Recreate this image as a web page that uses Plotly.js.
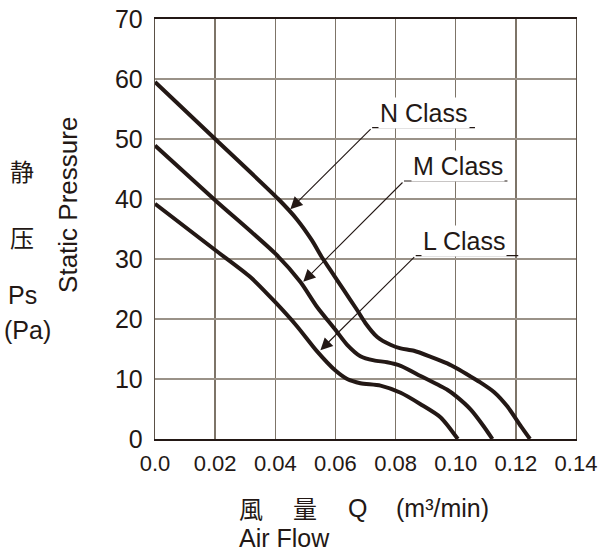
<!DOCTYPE html>
<html>
<head>
<meta charset="utf-8">
<script src="https://cdn.plot.ly/plotly-3.0.1.min.js"></script>
<style>
  html, body { margin: 0; padding: 0; background: #fff; }
  #chart { width: 600px; height: 558px; }
</style>
</head>
<body>
<div id="chart"></div>
<script>
// air flow (m3/min) vs static pressure (Pa)
var flowN = [0, 0.02, 0.041, 0.0472, 0.0522, 0.0556, 0.0583, 0.0628, 0.0672, 0.07, 0.0739, 0.0783, 0.0817, 0.0861, 0.0917, 0.0972, 0.1006, 0.105, 0.1083, 0.1128, 0.1172, 0.1217, 0.1247];
var pressN = [59.5, 50, 40, 36.6, 33.1, 30.2, 28.2, 24.8, 21.5, 19.3, 17, 15.7, 15.1, 14.7, 13.7, 12.6, 11.7, 10.4, 9.4, 7.8, 5.4, 2.1, 0];

var flowM = [0, 0.02, 0.0402, 0.0483, 0.0539, 0.06, 0.0639, 0.0683, 0.0728, 0.0772, 0.0817, 0.0883, 0.0972, 0.1002, 0.105, 0.1094, 0.1122];
var pressM = [48.9, 39.8, 30.8, 26.2, 22, 18.2, 15.7, 13.8, 13.1, 12.8, 12.2, 10.5, 8.2, 7.1, 4.9, 2.05, 0];

var flowL = [0, 0.02, 0.0317, 0.04, 0.0472, 0.0539, 0.06, 0.0639, 0.0683, 0.075, 0.0817, 0.0883, 0.095, 0.1007];
var pressL = [39.2, 31.5, 27, 22.8, 18.8, 14.6, 11.4, 10.0, 9.3, 8.9, 7.7, 5.8, 3.6, 0];

var xTickVals = [0, 0.02, 0.04, 0.06, 0.08, 0.10, 0.12, 0.14];
var xTickText = ['0.0', '0.02', '0.04', '0.06', '0.08', '0.10', '0.12', '0.14'];
var yTickVals = [0, 10, 20, 30, 40, 50, 60, 70];

var classNames = ['N Class', 'M Class', 'L Class'];

var ink = '#231815';
var font = 'Liberation Sans, Arial, sans-serif';

function curve(x, y, name) {
  return {
    type: 'scatter',
    x: x,
    y: y,
    mode: 'lines',
    name: name,
    line: {
      color: ink,
      width: 4,
      shape: 'spline',
      smoothing: 0.7
    },
    hoverinfo: 'x+y'
  };
}

var data = [
  curve(flowN, pressN, classNames[0]),
  curve(flowM, pressM, classNames[1]),
  curve(flowL, pressL, classNames[2])
];

// label callouts: text centre, underline span, arrow head
var callouts = [
  {text: classNames[0], tx: 0.0896, ty: 54.4, u0: 0.0722, u1: 0.1064, uy: 51.9, hx: 0.045, hy: 38.3},
  {text: classNames[1], tx: 0.1006, ty: 45.5, u0: 0.0828, u1: 0.1172, uy: 43.0, hx: 0.0493, hy: 26.2},
  {text: classNames[2], tx: 0.1027, ty: 33.0, u0: 0.0867, u1: 0.1208, uy: 30.55, hx: 0.055, hy: 14.8}
];

var annotations = [];
var shapes = [];

callouts.forEach(function (c) {
  annotations.push({
    x: c.tx, y: c.ty, xref: 'x', yref: 'y',
    xanchor: 'center', yanchor: 'middle',
    text: c.text, showarrow: false,
    bgcolor: '#fff', borderpad: 1,
    font: {family: font, size: 25, color: ink}
  });
  annotations.push({
    x: c.hx, y: c.hy, xref: 'x', yref: 'y',
    ax: c.u0, ay: c.uy, axref: 'x', ayref: 'y',
    text: '', showarrow: true,
    arrowhead: 2, arrowsize: 2.2, arrowwidth: 1.1, arrowcolor: ink,
    standoff: 0
  });
  shapes.push({
    type: 'line', xref: 'x', yref: 'y',
    x0: c.u0, x1: c.u1, y0: c.uy, y1: c.uy,
    line: {color: ink, width: 1.2},
    layer: 'above'
  });
});

// labels outside the plot, placed in paper units
function label(x, y, text, f, extra) {
  var a = {xref: 'paper', yref: 'paper', x: x, y: y, xanchor: 'center', yanchor: 'middle',
           text: text, showarrow: false, font: f};
  for (var k in extra) a[k] = extra[k];
  annotations.push(a);
}

var sideFont = {family: font, size: 25, color: ink};
var cjkFont = {family: 'Noto Sans CJK SC, sans-serif', size: 24, color: ink};

label(-0.316, 0.640, '静', cjkFont);
label(-0.316, 0.481, '压', cjkFont);
label(-0.314, 0.343, 'Ps', sideFont);
label(-0.302, 0.260, '(Pa)', sideFont);
label(-0.207, 0.557, 'Static Pressure', {family: font, size: 26, color: ink}, {textangle: -90});
label(0.228, -0.164, '風', cjkFont);
label(0.356, -0.164, '量', cjkFont);
label(0.482, -0.164, 'Q', sideFont);
label(0.684, -0.164, '(m³/min)', sideFont);
label(0.195, -0.236, 'Air Flow', sideFont, {xanchor: 'left'});

var layout = {
  width: 600,
  height: 558,
  margin: {l: 155, r: 24, t: 19, b: 119},
  paper_bgcolor: '#fff',
  plot_bgcolor: '#fff',
  showlegend: false,
  font: {family: font, color: ink},
  xaxis: {
    range: [0, 0.14],
    tickvals: xTickVals,
    ticktext: xTickText,
    tickfont: {family: font, size: 22, color: ink},
    showgrid: true,
    gridcolor: '#7d7468',
    gridwidth: 1.3,
    showline: true,
    linecolor: ink,
    linewidth: 2,
    mirror: true,
    zeroline: false,
    ticks: '',
    ticklabelstandoff: 4,
    fixedrange: true
  },
  yaxis: {
    range: [0, 70],
    tickvals: yTickVals,
    tickfont: {family: font, size: 25, color: ink},
    showgrid: true,
    gridcolor: '#9a9288',
    gridwidth: 1.3,
    showline: true,
    linecolor: '#5a5046',
    linewidth: 1.3,
    mirror: true,
    zeroline: false,
    ticks: '',
    ticklabelstandoff: 6,
    fixedrange: true
  },
  annotations: annotations,
  shapes: shapes
};

Plotly.newPlot('chart', data, layout, {displayModeBar: false, staticPlot: true});
</script>
</body>
</html>
